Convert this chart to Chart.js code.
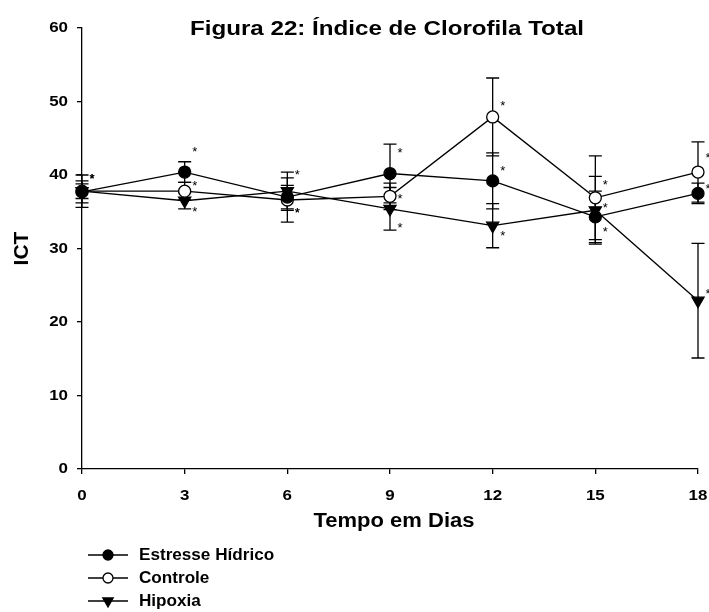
<!DOCTYPE html>
<html>
<head>
<meta charset="utf-8">
<script src="https://cdn.jsdelivr.net/npm/chart.js@4.4.0/dist/chart.umd.min.js"></script>
<style>
  html, body { margin: 0; padding: 0; background: #fff; }
</style>
</head>
<body>
<canvas id="grafico" width="709" height="612"></canvas>
<script>
// Dados: índice de clorofila total (média e desvio) por dia
const dias = [0, 3, 6, 9, 12, 15, 18];
const estresse   = [37.7, 40.4, 37.0, 40.2, 39.2, 34.3, 37.5];
const estresseDP = [1.5, 1.4, 1.6, 4.0, 3.8, 3.5, 1.4];
const controle   = [37.8, 37.8, 36.6, 37.1, 47.9, 36.9, 40.4];
const controleDP = [2.2, 1.2, 3.0, 1.8, 5.3, 5.7, 4.1];
const hipoxia    = [37.8, 36.5, 37.8, 35.4, 33.1, 35.2, 22.9];
const hipoxiaDP  = [1.0, 1.1, 2.6, 2.9, 3.0, 4.6, 7.8];

const FONTE = '"Liberation Sans", Arial, Helvetica, sans-serif';

// deslocamento vertical (px) de cada asterisco em relação ao ponto
const astEstresse = [-15, -23, 13, -23, -12, 13, -7];
const astControle = [-15, -8, 10, 0, -14, -15, -17];
const astHipoxia  = [-15, 9, -19, 17, 8, -5, -9];

function pontos(valores) {
  return dias.map((d, i) => ({ x: d, y: valores[i] }));
}

function serie(nome, valores, dp, ast, estilo) {
  return Object.assign({
    label: nome,
    data: pontos(valores),
    desvio: dp,
    asteriscos: ast,
    borderColor: '#000',
    borderWidth: 1.3,
    pointBorderColor: '#000',
    pointBorderWidth: 1.3,
    pointRadius: 6,
    pointHoverRadius: 6,
    raioLegenda: 5,
    tension: 0,
    fill: false,
    clip: false
  }, estilo);
}

// texto em negrito, levemente alargado na horizontal
function escrever(ctx, str, x, y, tamanho, esticar, alinhamento, angulo) {
  ctx.save();
  ctx.font = 'bold ' + tamanho + 'px ' + FONTE;
  ctx.textAlign = alinhamento || 'center';
  ctx.textBaseline = 'middle';
  ctx.fillStyle = '#000';
  ctx.translate(x, y);
  if (angulo) ctx.rotate(angulo);
  ctx.scale(esticar, 1);
  ctx.fillText(str, 0, 0);
  ctx.restore();
}

// Barras de erro (desenhadas sob as linhas e marcadores)
const barrasErro = {
  id: 'barrasErro',
  beforeDatasetsDraw(chart) {
    const ctx = chart.ctx;
    const sx = chart.scales.x, sy = chart.scales.y;
    ctx.save();
    ctx.strokeStyle = '#000';
    ctx.lineWidth = 1.3;
    chart.data.datasets.forEach(ds => {
      ds.data.forEach((p, i) => {
        const d = ds.desvio[i];
        const x = sx.getPixelForValue(p.x);
        const yTopo = sy.getPixelForValue(p.y + d);
        const yBase = sy.getPixelForValue(p.y - d);
        ctx.beginPath();
        ctx.moveTo(x, yTopo); ctx.lineTo(x, yBase);
        ctx.moveTo(x - 6.5, yTopo); ctx.lineTo(x + 6.5, yTopo);
        ctx.moveTo(x - 6.5, yBase); ctx.lineTo(x + 6.5, yBase);
        ctx.stroke();
      });
    });
    ctx.restore();
  }
};

// Asteriscos de significância ao lado de cada ponto
const asteriscos = {
  id: 'asteriscos',
  afterDatasetsDraw(chart) {
    const ctx = chart.ctx;
    const sx = chart.scales.x, sy = chart.scales.y;
    ctx.save();
    ctx.fillStyle = '#000';
    ctx.font = '13px ' + FONTE;
    ctx.textAlign = 'center';
    ctx.textBaseline = 'middle';
    chart.data.datasets.forEach(ds => {
      ds.data.forEach((p, i) => {
        const x = sx.getPixelForValue(p.x) + 10;
        const y = sy.getPixelForValue(p.y) + ds.asteriscos[i];
        ctx.fillText('*', x, y + 3);
      });
    });
    ctx.restore();
  }
};

// Rótulos dos ticks, títulos e legenda
const textos = {
  id: 'textos',
  afterDraw(chart) {
    const ctx = chart.ctx;
    const area = chart.chartArea;
    const sx = chart.scales.x, sy = chart.scales.y;

    sx.ticks.forEach(t => {
      escrever(ctx, String(t.value), sx.getPixelForValue(t.value), 496, 15, 1.13);
    });
    sy.ticks.forEach(t => {
      escrever(ctx, String(t.value), 68, sy.getPixelForValue(t.value), 15, 1.13, 'right');
    });

    escrever(ctx, 'Figura 22: Índice de Clorofila Total', 387, 29, 21, 1.15);
    escrever(ctx, 'Tempo em Dias', 394, 521, 20, 1.1);
    escrever(ctx, 'ICT', 22, (area.top + area.bottom) / 2, 20, 1.05, 'center', -Math.PI / 2);

    // legenda
    chart.data.datasets.forEach((ds, i) => {
      const y = 555 + i * 23;
      ctx.save();
      ctx.strokeStyle = '#000';
      ctx.lineWidth = 1.3;
      ctx.beginPath();
      ctx.moveTo(88, y); ctx.lineTo(128, y);
      ctx.stroke();
      ctx.fillStyle = ds.pointBackgroundColor;
      Chart.helpers.drawPoint(ctx, {
        pointStyle: ds.pointStyle,
        rotation: ds.rotation || 0,
        radius: ds.raioLegenda,
        borderWidth: 1.3
      }, 108, y);
      ctx.restore();
      escrever(ctx, ds.label, 139, y + 1, 16, 1.07, 'left');
    });
  }
};

new Chart(document.getElementById('grafico'), {
  type: 'line',
  data: {
    datasets: [
      serie('Estresse Hídrico', estresse, estresseDP, astEstresse, {
        pointStyle: 'circle', pointBackgroundColor: '#000', backgroundColor: '#000'
      }),
      serie('Controle', controle, controleDP, astControle, {
        pointStyle: 'circle', pointBackgroundColor: '#fff', backgroundColor: '#fff'
      }),
      serie('Hipoxia', hipoxia, hipoxiaDP, astHipoxia, {
        pointStyle: 'triangle', rotation: 180, pointRadius: 7, pointHoverRadius: 7,
        raioLegenda: 6, pointBackgroundColor: '#000', backgroundColor: '#000'
      })
    ]
  },
  options: {
    responsive: false,
    animation: false,
    layout: { padding: { left: 0, right: 11, top: 28, bottom: 0 } },
    plugins: { legend: { display: false }, title: { display: false }, tooltip: { enabled: false } },
    scales: {
      x: {
        type: 'linear', min: 0, max: 18,
        afterFit(scale) { scale.height = 143; },
        ticks: { stepSize: 3, display: false },
        grid: { drawOnChartArea: false, tickLength: 5, color: '#000', lineWidth: 1.3 },
        border: { color: '#000', width: 1.3 }
      },
      y: {
        min: 0, max: 60,
        afterFit(scale) { scale.width = 82; },
        ticks: { stepSize: 10, display: false },
        grid: { drawOnChartArea: false, tickLength: 5, color: '#000', lineWidth: 1.3 },
        border: { color: '#000', width: 1.3 }
      }
    }
  },
  plugins: [barrasErro, asteriscos, textos]
});
</script>
</body>
</html>
